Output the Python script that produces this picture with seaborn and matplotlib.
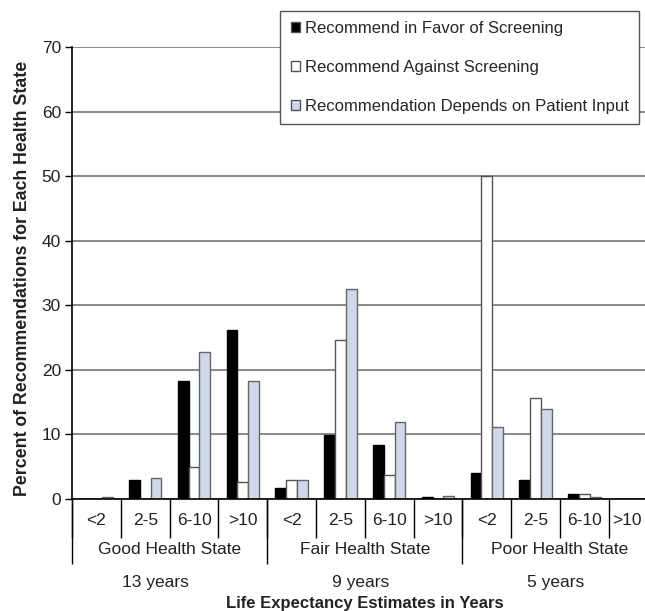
import numpy as np
import pandas as pd
import matplotlib
matplotlib.use("Agg")
import matplotlib.pyplot as plt
import matplotlib.transforms as mtransforms
import seaborn as sns

# chart data
health_states = ["Good Health State", "Fair Health State", "Poor Health State"]
life_expectancy = ["13 years", "9 years", "5 years"]
ranges = ["<2", "2-5", "6-10", ">10"]
series = ["Recommend in Favor of Screening",
          "Recommend Against Screening",
          "Recommendation Depends on Patient Input"]
favor = [0.0, 2.9, 18.2, 26.2, 1.7, 9.9, 8.4, 0.3, 4.0, 2.9, 0.8, 0.0]
against = [0.0, 0.0, 4.9, 2.6, 2.9, 24.6, 3.7, 0.0, 50.0, 15.6, 0.8, 0.0]
depends = [0.3, 3.2, 22.7, 18.2, 2.9, 32.5, 12.0, 0.4, 11.2, 13.9, 0.3, 0.0]

PALETTE = {series[0]: "black", series[1]: "white", series[2]: "#c8d7ef"}
FS = 12.5

# long format table for seaborn
cats = [f"{hs} {r}" for hs in health_states for r in ranges]
df = pd.concat([
    pd.DataFrame({"category": cats, "percent": vals, "recommendation": name})
    for name, vals in zip(series, [favor, against, depends])
])

sns.set_style("white")
plt.rcParams["font.family"] = ["Liberation Sans", "DejaVu Sans"]

fig = plt.figure(figsize=(6.45, 6.11), dpi=100)
ax = fig.add_axes([72 / 645, 1 - 499 / 611, 1 - 72 / 645, 452 / 611])

sns.barplot(data=df, x="category", y="percent", hue="recommendation",
            order=cats, hue_order=series, palette=PALETTE, width=0.66,
            edgecolor="#555555", linewidth=1.0, ax=ax)
for cont, ec in zip(ax.containers, ["black", "#555555", "#666666"]):
    for bar in cont:
        bar.set_edgecolor(ec)

# the reference is cropped at the right edge, part way through the last bin
xmax = -0.5 + 573 / 48.8

ax.set_yticks(range(0, 71, 10))
ax.yaxis.grid(True, color="#808080", lw=1.3)
ax.set_axisbelow(True)
for s in ["top", "right"]:
    ax.spines[s].set_visible(False)
for s in ["left", "bottom"]:
    ax.spines[s].set_color("black")
    ax.spines[s].set_linewidth(1.2)

ax.tick_params(axis="y", direction="out", length=5, width=1, color="black",
               labelsize=FS, labelcolor="#222222", pad=3, left=True)

# category labels under each bar group
ax.set_xticks(range(len(cats)))
ax.set_xticklabels(ranges * len(health_states), fontsize=FS, color="#222222")
ax.tick_params(axis="x", length=0, pad=10)
ax.set_xticks(np.arange(-0.5, xmax, 1), minor=True)
ax.tick_params(axis="x", which="minor", direction="out", length=28, width=1,
               color="black", bottom=True)
# keep the last (cropped) label inside the picture
last = ax.get_xticklabels()[-1]
last.set_transform(last.get_transform()
                   + mtransforms.ScaledTranslation(-6 / 100, 0, fig.dpi_scale_trans))

# longer separators between health states
sec = ax.secondary_xaxis("bottom")
sec.set_xticks(np.arange(-0.5, xmax, len(ranges)))
sec.set_xticklabels([])
sec.tick_params(axis="x", direction="out", length=47, width=1, color="black")
sec.spines["bottom"].set_visible(False)

ax.set_xlim(-0.5, xmax)
ax.set_ylim(0, 70)

trans = mtransforms.blended_transform_factory(ax.transData, ax.transAxes)
centers = np.arange(len(health_states)) * len(ranges) + (len(ranges) - 1) / 2
year_shift = [-0.3, -0.08, -0.08]
for c, hs, le, sh in zip(centers, health_states, life_expectancy, year_shift):
    ax.text(c, -0.111, hs, transform=trans, ha="center", va="center",
            fontsize=FS, color="#222222")
    ax.text(c + sh, -0.184, le, transform=trans, ha="center", va="center",
            fontsize=FS, color="#222222")
ax.text(centers[1], -0.232, "Life Expectancy Estimates in Years", transform=trans,
        ha="center", va="center", fontsize=12, fontweight="bold", color="#222222")

ax.set_xlabel("")
ax.set_ylabel("Percent of Recommendations for Each Health State",
              fontsize=12.8, fontweight="bold", color="#222222")
ax.yaxis.set_label_coords(-0.072, 0.488)

handles, labels = ax.get_legend_handles_labels()
ax.legend(handles, labels, loc="upper right",
          bbox_to_anchor=(639 / 645, 1 - 11 / 611), bbox_transform=fig.transFigure,
          frameon=True, fancybox=False, framealpha=1, edgecolor="#555555",
          handlelength=0.55, handleheight=0.55, handletextpad=0.3,
          labelspacing=1.42, borderpad=0.62, borderaxespad=0, fontsize=12)

fig.savefig("out.png", dpi=100)
